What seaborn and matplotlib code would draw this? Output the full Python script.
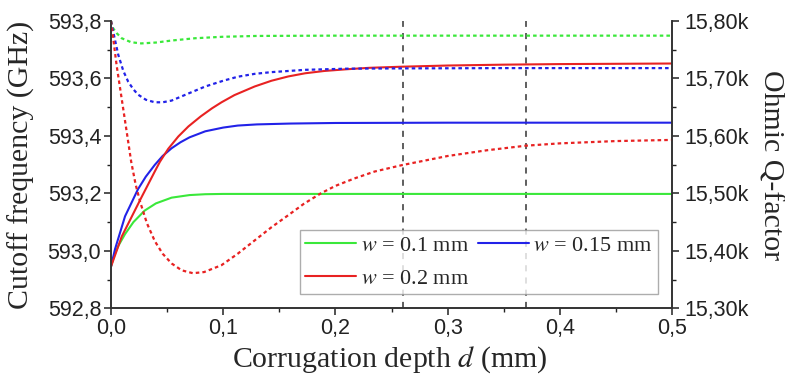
import numpy as np
import pandas as pd
import matplotlib
matplotlib.use("Agg")
import matplotlib.pyplot as plt
import seaborn as sns
from matplotlib.ticker import MultipleLocator, FuncFormatter

# ─── data ────────────────────────────────────────────────────────────────────
# cutoff frequency (GHz), solid lines, left axis
green_d = [0, 0.003, 0.0065, 0.0125, 0.02, 0.03, 0.04, 0.054, 0.07, 0.084, 0.1, 0.15, 0.2,
           0.3, 0.4, 0.5]
green_f = [592.945, 592.985, 593.017, 593.058, 593.1, 593.14, 593.165, 593.185, 593.194,
           593.197, 593.198, 593.198, 593.198, 593.198, 593.198, 593.198]

blue_d = [0, 0.0036, 0.0125, 0.024, 0.031, 0.039, 0.046, 0.054, 0.062, 0.07, 0.084, 0.1,
          0.113, 0.13, 0.16, 0.2, 0.3, 0.5]
blue_f = [592.945, 593.006, 593.12, 593.214, 593.258, 593.299, 593.33, 593.357, 593.378,
          593.395, 593.416, 593.429, 593.436, 593.44, 593.443, 593.445, 593.446, 593.446]

red_d = [0, 0.0096, 0.018, 0.027, 0.039, 0.0436, 0.051, 0.06, 0.069, 0.08, 0.09, 0.0985,
         0.11, 0.128, 0.143, 0.158, 0.173, 0.19, 0.21, 0.23, 0.26, 0.3, 0.35, 0.4, 0.5]
red_f = [592.945, 593.05, 593.115, 593.185, 593.276, 593.31, 593.355, 593.398, 593.433,
         593.468, 593.496, 593.517, 593.542, 593.572, 593.592, 593.607, 593.618, 593.626,
         593.632, 593.637, 593.641, 593.645, 593.648, 593.65, 593.652]

# ohmic Q-factor, dotted lines, right axis
green_qd = [0, 0.002, 0.005, 0.0095, 0.018, 0.027, 0.04, 0.054, 0.075, 0.099, 0.13, 0.2,
            0.3, 0.5]
green_q = [15800, 15787, 15779, 15770, 15763, 15761, 15762.5, 15766, 15770, 15772.5, 15774,
           15774.5, 15774.5, 15774.5]

blue_qd = [0, 0.002, 0.0065, 0.011, 0.0154, 0.02, 0.024, 0.031, 0.039, 0.046, 0.054, 0.068,
           0.084, 0.1, 0.113, 0.128, 0.143, 0.173, 0.21, 0.258, 0.35, 0.5]
blue_q = [15800, 15781, 15741, 15713, 15694, 15681, 15672, 15663, 15658.5, 15658.5, 15661.5,
          15673, 15686, 15696, 15703, 15708, 15711, 15715, 15717, 15717.5, 15718, 15718]

red_qd = [0, 0.005, 0.0095, 0.014, 0.018, 0.022, 0.026, 0.032, 0.039, 0.046, 0.054, 0.063,
          0.073, 0.083, 0.0985, 0.113, 0.128, 0.143, 0.158, 0.172, 0.187, 0.2, 0.217, 0.235,
          0.259, 0.3, 0.335, 0.37, 0.4, 0.45, 0.5]
red_q = [15800, 15723, 15665, 15607, 15555, 15515, 15485, 15448, 15417, 15395, 15378, 15366,
         15361, 15363, 15375, 15395, 15418, 15441, 15462, 15482, 15500, 15513, 15526, 15538,
         15549, 15565, 15575, 15583, 15587, 15591, 15593]

marker_d = [0.26, 0.37]
labels = ["$w$ = 0.1 mm", "$w$ = 0.15 mm", "$w$ = 0.2 mm"]
colors = ["#3ae83a", "#2222e8", "#e82222"]

# ─── style ───────────────────────────────────────────────────────────────────
sns.set_style("ticks")
plt.rcParams["font.family"] = ["Liberation Sans", "DejaVu Sans"]
plt.rcParams["mathtext.fontset"] = "stix"
serif = ["Liberation Serif", "DejaVu Serif"]

fig = plt.figure(figsize=(7.85, 3.75), dpi=100)
ax = fig.add_axes([0.1414, 0.178, 0.7147, 0.766])
ax2 = ax.twinx()

solid = [(green_d, green_f), (blue_d, blue_f), (red_d, red_f)]
dotted = [(green_qd, green_q), (blue_qd, blue_q), (red_qd, red_q)]

for (d, f), lab, c in zip(solid, labels, colors):
    sns.lineplot(x=d, y=f, ax=ax, color=c, lw=1.5, label=lab, legend=False)
for (d, q), c in zip(dotted, colors):
    sns.lineplot(x=d, y=q, ax=ax2, color=c, lw=1.6, linestyle=(0, (1.6, 1.4)), legend=False)

for xv in marker_d:
    ax.axvline(xv, color="#333333", lw=1.1, linestyle=(0, (4, 4)), zorder=0)

ax.set_xlim(0, 0.5)
ax.set_ylim(592.8, 593.8)
ax2.set_ylim(15300, 15800)

ax.xaxis.set_major_locator(MultipleLocator(0.1))
ax.xaxis.set_minor_locator(MultipleLocator(0.05))
ax.yaxis.set_major_locator(MultipleLocator(0.2))
ax.yaxis.set_minor_locator(MultipleLocator(0.1))
ax2.yaxis.set_major_locator(MultipleLocator(100))
ax2.yaxis.set_minor_locator(MultipleLocator(50))

ax.xaxis.set_major_formatter(FuncFormatter(lambda v, p: f"{v:.1f}".replace(".", ",")))
ax.yaxis.set_major_formatter(FuncFormatter(lambda v, p: f"{v:.1f}".replace(".", ",")))
ax2.yaxis.set_major_formatter(FuncFormatter(lambda v, p: f"{v/1000:.2f}k".replace(".", ",")))

for a in (ax, ax2):
    a.tick_params(which="major", direction="out", length=5, width=1.1, labelsize=15.5, colors="#222222")
    a.tick_params(which="minor", direction="out", length=3, width=1.0, colors="#222222")
    for s in a.spines.values():
        s.set_linewidth(1.2)
        s.set_color("#333333")
    a.spines["top"].set_visible(False)
ax.tick_params(axis="y", pad=2)
ax.tick_params(axis="x", pad=2)
ax2.tick_params(axis="y", pad=4)
ax2.spines["right"].set_visible(True)

ax.set_xlabel("Corrugation depth $d$ (mm)", family=serif, fontsize=21.5, va="baseline")
ax.set_ylabel("Cutoff frequency (GHz)", family=serif, fontsize=21.5, va="center")
ax2.set_ylabel("Ohmic Q-factor", family=serif, fontsize=21.5, rotation=270, va="center")
ax.xaxis.set_label_coords(0.497, -0.203)
ax.yaxis.set_label_coords(-0.159, 0.5)
ax2.yaxis.set_label_coords(1.175, 0.5)

h, l = ax.get_legend_handles_labels()
order = [0, 2, 1]
leg = ax.legend([h[i] for i in order], [l[i] for i in order], ncol=2, loc="lower right",
                bbox_to_anchor=(0.975, 0.049),
                prop={"family": serif, "size": 16}, frameon=True, fancybox=False,
                handlelength=2.3, handletextpad=0.2, columnspacing=0.4,
                borderpad=0.25, labelspacing=0.55, borderaxespad=0)
leg.get_frame().set_edgecolor("#999999")
leg.get_frame().set_linewidth(1.0)
leg.set_zorder(5)

fig.savefig("out.png", dpi=100)
